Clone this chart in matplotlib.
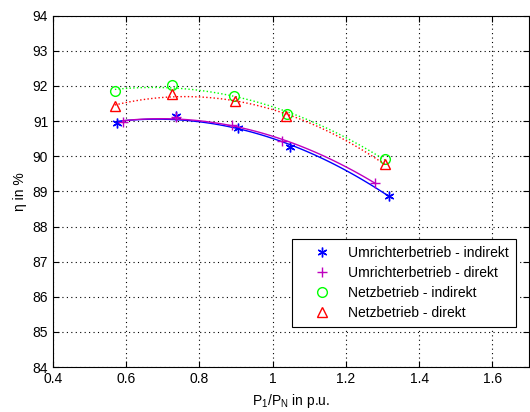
import numpy as np
import matplotlib
matplotlib.use("Agg")
import matplotlib.pyplot as plt

plt.rcParams['font.family'] = ['Liberation Sans', 'DejaVu Sans']
plt.rcParams['font.size'] = 10
plt.rcParams['mathtext.fontset'] = 'custom'
plt.rcParams['mathtext.rm'] = 'Liberation Sans'

# measured data (P1/PN in p.u., efficiency in %)
x_umr_ind = [0.576, 0.735, 0.904, 1.046, 1.318]
y_umr_ind = [90.94, 91.14, 90.79, 90.26, 88.88]

x_umr_dir = [0.59, 0.735, 0.888, 1.025, 1.28]
y_umr_dir = [90.97, 91.13, 90.88, 90.42, 89.25]

x_netz_ind = [0.569, 0.726, 0.895, 1.038, 1.307]
y_netz_ind = [91.86, 92.02, 91.71, 91.21, 89.91]

x_netz_dir = [0.569, 0.726, 0.897, 1.036, 1.307]
y_netz_dir = [91.42, 91.76, 91.58, 91.15, 89.78]

labels = ["Umrichterbetrieb - indirekt", "Umrichterbetrieb - direkt",
          "Netzbetrieb - indirekt", "Netzbetrieb - direkt"]

fig = plt.figure(figsize=(5.3, 4.12), dpi=100)
ax = fig.add_axes([0.1, 0.109, 0.898, 0.853])

asterisk = (6, 2, 0)
series = [
    (x_umr_ind, y_umr_ind, 'b', asterisk, '-'),
    (x_umr_dir, y_umr_dir, 'm', '+', '-'),
    (x_netz_ind, y_netz_ind, 'lime', 'o', ':'),
    (x_netz_dir, y_netz_dir, 'r', '^', ':'),
]

handles = []
for (xs, ys, c, m, ls), lab in zip(series, labels):
    xs = np.array(xs)
    ys = np.array(ys)
    # quadratic fit curve through the measurements
    p = np.polyfit(xs, ys, 2)
    xf = np.linspace(xs.min(), xs.max(), 100)
    ax.plot(xf, np.polyval(p, xf), color=c, linestyle=ls, linewidth=1)
    h, = ax.plot(xs, ys, linestyle='none', marker=m, color=c,
                 markerfacecolor='none', markersize=7, markeredgewidth=1,
                 label=lab)
    handles.append(h)

ax.set_xlim(0.4, 1.7)
ax.set_ylim(84, 94)
ax.set_xticks([0.4, 0.6, 0.8, 1, 1.2, 1.4, 1.6])
ax.set_xticklabels(['0.4', '0.6', '0.8', '1', '1.2', '1.4', '1.6'])
ax.set_yticks(range(84, 95))
ax.grid(True, color='k', linestyle=(0, (1, 3)), linewidth=0.8)
ax.tick_params(direction='in', top=True, right=True, length=4)

ax.set_xlabel(r'P$_1$/P$_\mathrm{N}$ in p.u.')
ax.set_ylabel('η in %')

leg = ax.legend(handles=handles, loc='upper left', bbox_to_anchor=(0.502, 0.364),
                borderaxespad=0, fancybox=False, edgecolor='k', framealpha=1,
                handlelength=3.4, handletextpad=0.15, borderpad=0.5,
                labelspacing=0.42)
leg.get_frame().set_linewidth(0.8)

fig.savefig('out.png', dpi=100)
